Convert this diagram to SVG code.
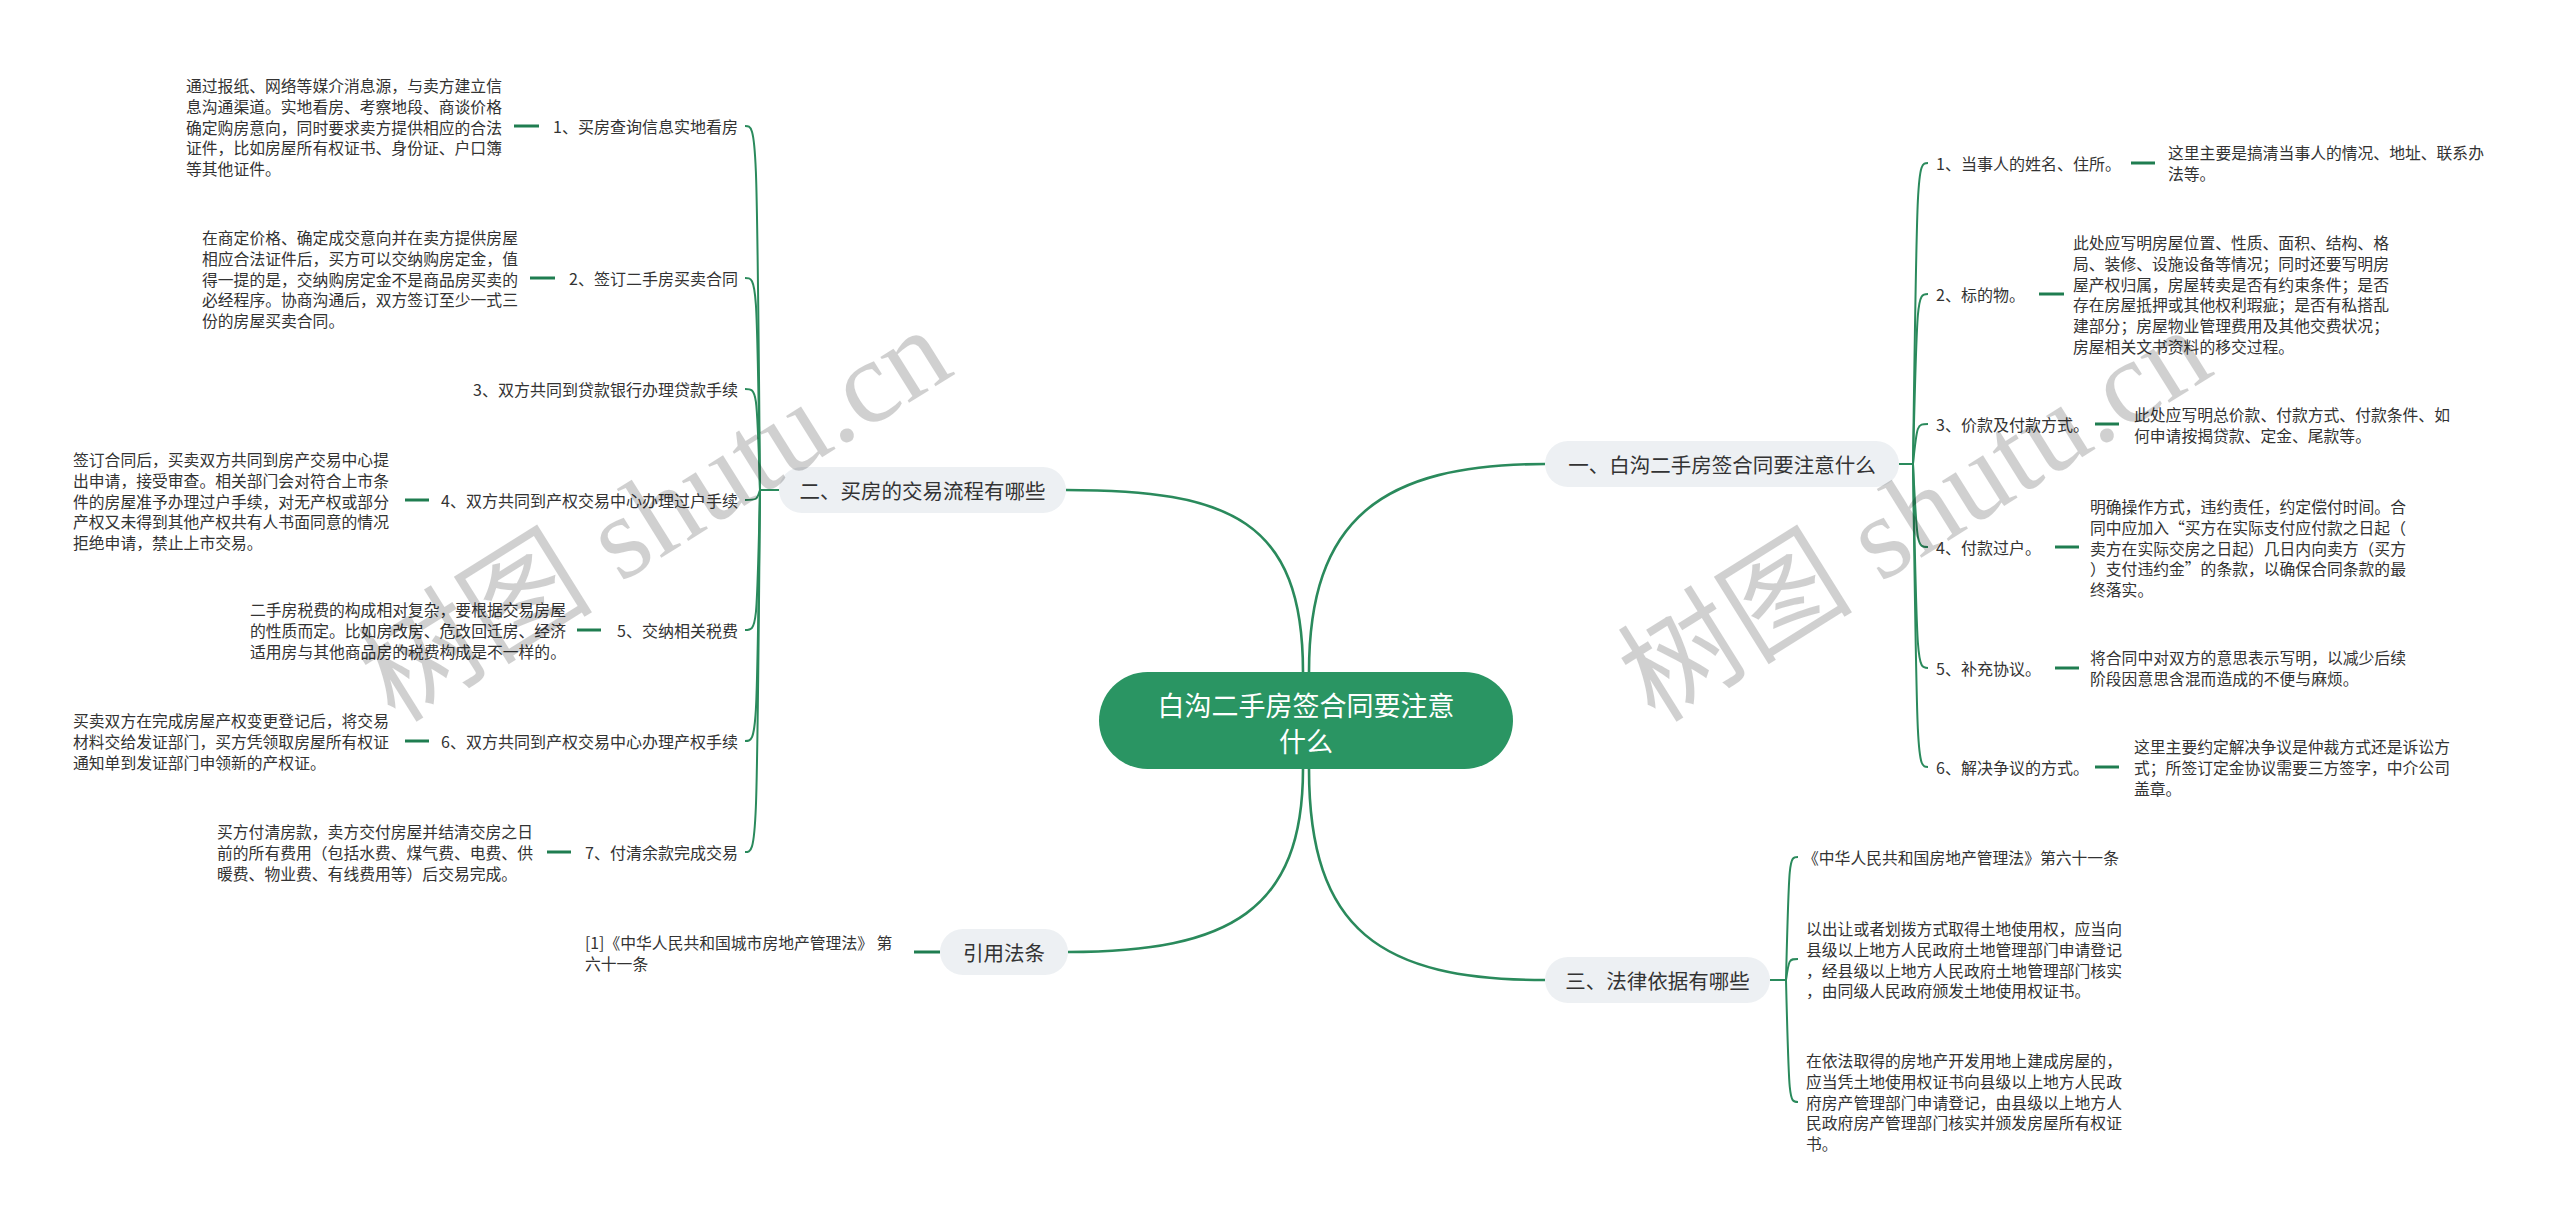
<svg xmlns="http://www.w3.org/2000/svg" width="2560" height="1226" viewBox="0 0 2560 1226">
<style>
text{font-family:"Noto Sans CJK SC","Microsoft YaHei",sans-serif;fill:#333;dominant-baseline:central}
.d{font-size:15.8px}
.l{font-size:16px}
.b{font-size:20.5px;text-anchor:middle}
.c{font-size:27px;text-anchor:middle;fill:#fff}
.pill{fill:#edf0f3}
.main{fill:none;stroke:#2a8a5c;stroke-width:2.6}
.hook{fill:none;stroke:#2a8a5c;stroke-width:2}
.dash{stroke:#1f7d50;stroke-width:3}
.wm{font-family:"Liberation Serif","Noto Sans CJK SC",serif;font-size:118px;fill:#000;opacity:0.18;text-anchor:middle}
</style>
<rect width="2560" height="1226" fill="#fff"/>
<g id="connectors">
<path class="main" d="M1303 672 C1303 520 1230 490 1066 490"/>
<path class="main" d="M1309 672 C1309 520 1380 464 1545 464"/>
<path class="main" d="M1309 769 C1309 930 1380 980 1545 980"/>
<path class="main" d="M1303 769 C1303 910 1230 952 1068 952"/>
<!-- branch 二 -->
<path class="hook" d="M779 490 L760 490"/>
<path class="hook" d="M760 490 C757 126 757 126 745 126"/>
<path class="hook" d="M760 490 C757 278 757 278 745 278"/>
<path class="hook" d="M760 490 C757 389 757 389 745 389"/>
<path class="hook" d="M760 490 C757 500 757 500 745 500"/>
<path class="hook" d="M760 490 C757 630 757 630 745 630"/>
<path class="hook" d="M760 490 C757 741 757 741 745 741"/>
<path class="hook" d="M760 490 C757 852 757 852 745 852"/>
<!-- branch 一 -->
<path class="hook" d="M1899 464 L1913 464"/>
<path class="hook" d="M1913 464 C1917 163 1917 163 1928 163"/>
<path class="hook" d="M1913 464 C1917 294 1917 294 1928 294"/>
<path class="hook" d="M1913 464 C1917 424 1917 424 1928 424"/>
<path class="hook" d="M1913 464 C1917 547 1917 547 1928 547"/>
<path class="hook" d="M1913 464 C1917 668 1917 668 1928 668"/>
<path class="hook" d="M1913 464 C1917 767 1917 767 1928 767"/>
<!-- branch 三 -->
<path class="hook" d="M1770 980 L1786 980"/>
<path class="hook" d="M1786 980 C1789 857 1789 857 1798 857"/>
<path class="hook" d="M1786 980 C1789 959 1789 959 1798 959"/>
<path class="hook" d="M1786 980 C1789 1102 1789 1102 1798 1102"/>
<!-- dashes -->
<line class="dash" x1="514" y1="126" x2="539" y2="126"/>
<line class="dash" x1="530" y1="278" x2="555" y2="278"/>
<line class="dash" x1="405" y1="500" x2="429" y2="500"/>
<line class="dash" x1="577" y1="630" x2="601" y2="630"/>
<line class="dash" x1="405" y1="741" x2="429" y2="741"/>
<line class="dash" x1="547" y1="852" x2="571" y2="852"/>
<line class="dash" x1="2131" y1="163" x2="2155" y2="163"/>
<line class="dash" x1="2039" y1="294" x2="2064" y2="294"/>
<line class="dash" x1="2095" y1="424" x2="2119" y2="424"/>
<line class="dash" x1="2055" y1="547" x2="2079" y2="547"/>
<line class="dash" x1="2055" y1="668" x2="2079" y2="668"/>
<line class="dash" x1="2095" y1="767" x2="2119" y2="767"/>
<line class="dash" x1="914" y1="952" x2="940" y2="952"/>
</g>
<g id="center">
<rect x="1099" y="672" width="414" height="97" rx="48.5" fill="#2a9563"/>
<text class="c" x="1306" y="704">白沟二手房签合同要注意</text>
<text class="c" x="1306" y="740">什么</text>
</g>
<g id="b1">
<rect class="pill" x="1545" y="441" width="354" height="46" rx="23"/>
<text class="b" x="1722" y="464">一、白沟二手房签合同要注意什么</text>
</g>
<g id="b2">
<rect class="pill" x="779" y="467" width="287" height="46" rx="23"/>
<text class="b" x="922.5" y="490">二、买房的交易流程有哪些</text>
</g>
<g id="b3">
<rect class="pill" x="1545" y="957" width="225" height="46" rx="23"/>
<text class="b" x="1657.5" y="980">三、法律依据有哪些</text>
</g>
<g id="b4">
<rect class="pill" x="940" y="929" width="128" height="46" rx="23"/>
<text class="b" x="1004" y="952">引用法条</text>
</g>
<g id="b2-c1">
<text class="l" x="738" y="126" text-anchor="end">1、买房查询信息实地看房</text>
<text class="d" x="186" y="85"><tspan x="186">通过报纸、网络等媒介消息源，与卖方建立信</tspan><tspan x="186" dy="20.8">息沟通渠道。实地看房、考察地段、商谈价格</tspan><tspan x="186" dy="20.8">确定购房意向，同时要求卖方提供相应的合法</tspan><tspan x="186" dy="20.8">证件，比如房屋所有权证书、身份证、户口簿</tspan><tspan x="186" dy="20.8">等其他证件。</tspan></text>
</g>
<g id="b2-c2">
<text class="l" x="738" y="278" text-anchor="end">2、签订二手房买卖合同</text>
<text class="d" x="202" y="237"><tspan x="202">在商定价格、确定成交意向并在卖方提供房屋</tspan><tspan x="202" dy="20.8">相应合法证件后，买方可以交纳购房定金，值</tspan><tspan x="202" dy="20.8">得一提的是，交纳购房定金不是商品房买卖的</tspan><tspan x="202" dy="20.8">必经程序。协商沟通后，双方签订至少一式三</tspan><tspan x="202" dy="20.8">份的房屋买卖合同。</tspan></text>
</g>
<g id="b2-c3">
<text class="l" x="738" y="389" text-anchor="end">3、双方共同到贷款银行办理贷款手续</text>
</g>
<g id="b2-c4">
<text class="l" x="738" y="500" text-anchor="end">4、双方共同到产权交易中心办理过户手续</text>
<text class="d" x="73" y="459"><tspan x="73">签订合同后，买卖双方共同到房产交易中心提</tspan><tspan x="73" dy="20.8">出申请，接受审查。相关部门会对符合上市条</tspan><tspan x="73" dy="20.8">件的房屋准予办理过户手续，对无产权或部分</tspan><tspan x="73" dy="20.8">产权又未得到其他产权共有人书面同意的情况</tspan><tspan x="73" dy="20.8">拒绝申请，禁止上市交易。</tspan></text>
</g>
<g id="b2-c5">
<text class="l" x="738" y="630" text-anchor="end">5、交纳相关税费</text>
<text class="d" x="250" y="609"><tspan x="250">二手房税费的构成相对复杂，要根据交易房屋</tspan><tspan x="250" dy="20.8">的性质而定。比如房改房、危改回迁房、经济</tspan><tspan x="250" dy="20.8">适用房与其他商品房的税费构成是不一样的。</tspan></text>
</g>
<g id="b2-c6">
<text class="l" x="738" y="741" text-anchor="end">6、双方共同到产权交易中心办理产权手续</text>
<text class="d" x="73" y="720"><tspan x="73">买卖双方在完成房屋产权变更登记后，将交易</tspan><tspan x="73" dy="20.8">材料交给发证部门，买方凭领取房屋所有权证</tspan><tspan x="73" dy="20.8">通知单到发证部门申领新的产权证。</tspan></text>
</g>
<g id="b2-c7">
<text class="l" x="738" y="852" text-anchor="end">7、付清余款完成交易</text>
<text class="d" x="217" y="831"><tspan x="217">买方付清房款，卖方交付房屋并结清交房之日</tspan><tspan x="217" dy="20.8">前的所有费用（包括水费、煤气费、电费、供</tspan><tspan x="217" dy="20.8">暖费、物业费、有线费用等）后交易完成。</tspan></text>
</g>
<g id="b1-c1">
<text class="l" x="1936" y="163">1、当事人的姓名、住所。</text>
<text class="d" x="2168" y="152"><tspan x="2168">这里主要是搞清当事人的情况、地址、联系办</tspan><tspan x="2168" dy="20.8">法等。</tspan></text>
</g>
<g id="b1-c2">
<text class="l" x="1936" y="294">2、标的物。</text>
<text class="d" x="2073" y="242"><tspan x="2073">此处应写明房屋位置、性质、面积、结构、格</tspan><tspan x="2073" dy="20.8">局、装修、设施设备等情况；同时还要写明房</tspan><tspan x="2073" dy="20.8">屋产权归属，房屋转卖是否有约束条件；是否</tspan><tspan x="2073" dy="20.8">存在房屋抵押或其他权利瑕疵；是否有私搭乱</tspan><tspan x="2073" dy="20.8">建部分；房屋物业管理费用及其他交费状况；</tspan><tspan x="2073" dy="20.8">房屋相关文书资料的移交过程。</tspan></text>
</g>
<g id="b1-c3">
<text class="l" x="1936" y="424">3、价款及付款方式。</text>
<text class="d" x="2134" y="414"><tspan x="2134">此处应写明总价款、付款方式、付款条件、如</tspan><tspan x="2134" dy="20.8">何申请按揭贷款、定金、尾款等。</tspan></text>
</g>
<g id="b1-c4">
<text class="l" x="1936" y="547">4、付款过户。</text>
<text class="d" x="2090" y="506"><tspan x="2090">明确操作方式，违约责任，约定偿付时间。合</tspan><tspan x="2090" dy="20.8">同中应加入“买方在实际支付应付款之日起（</tspan><tspan x="2090" dy="20.8">卖方在实际交房之日起）几日内向卖方（买方</tspan><tspan x="2090" dy="20.8">）支付违约金”的条款，以确保合同条款的最</tspan><tspan x="2090" dy="20.8">终落实。</tspan></text>
</g>
<g id="b1-c5">
<text class="l" x="1936" y="668">5、补充协议。</text>
<text class="d" x="2090" y="657"><tspan x="2090">将合同中对双方的意思表示写明，以减少后续</tspan><tspan x="2090" dy="20.8">阶段因意思含混而造成的不便与麻烦。</tspan></text>
</g>
<g id="b1-c6">
<text class="l" x="1936" y="767">6、解决争议的方式。</text>
<text class="d" x="2134" y="746"><tspan x="2134">这里主要约定解决争议是仲裁方式还是诉讼方</tspan><tspan x="2134" dy="20.8">式；所签订定金协议需要三方签字，中介公司</tspan><tspan x="2134" dy="20.8">盖章。</tspan></text>
</g>
<g id="b3-c1">
<text class="d" x="1803" y="857">《中华人民共和国房地产管理法》第六十一条</text>
</g>
<g id="b3-c2">
<text class="d" x="1806" y="928"><tspan x="1806">以出让或者划拨方式取得土地使用权，应当向</tspan><tspan x="1806" dy="20.8">县级以上地方人民政府土地管理部门申请登记</tspan><tspan x="1806" dy="20.8">，经县级以上地方人民政府土地管理部门核实</tspan><tspan x="1806" dy="20.8">，由同级人民政府颁发土地使用权证书。</tspan></text>
</g>
<g id="b3-c3">
<text class="d" x="1806" y="1060"><tspan x="1806">在依法取得的房地产开发用地上建成房屋的，</tspan><tspan x="1806" dy="20.8">应当凭土地使用权证书向县级以上地方人民政</tspan><tspan x="1806" dy="20.8">府房产管理部门申请登记，由县级以上地方人</tspan><tspan x="1806" dy="20.8">民政府房产管理部门核实并颁发房屋所有权证</tspan><tspan x="1806" dy="20.8">书。</tspan></text>
</g>
<g id="b4-c1">
<text class="d" x="585" y="942"><tspan x="585">[1]《中华人民共和国城市房地产管理法》 第</tspan><tspan x="585" dy="20.8">六十一条</tspan></text>
</g>
<g id="watermarks">
<text class="wm" transform="translate(655 515) rotate(-32)">树图 shutu.cn</text>
<text class="wm" transform="translate(1915 515) rotate(-32)">树图 shutu.cn</text>
</g>
</svg>
